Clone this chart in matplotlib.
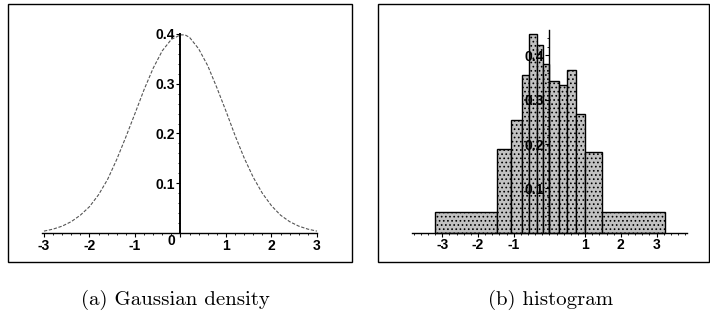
import matplotlib
matplotlib.use('Agg')
import matplotlib.pyplot as plt
import matplotlib.transforms as mtransforms
from matplotlib.patches import Rectangle
import numpy as np

plt.rcParams['axes.unicode_minus'] = False
plt.rcParams['hatch.linewidth'] = 0.7
plt.rcParams['font.family'] = ['Liberation Sans', 'DejaVu Sans']

# (a) gaussian density curve
dens_x = [-3.0, -2.8, -2.6, -2.4, -2.2, -2.0, -1.8, -1.6, -1.4, -1.2, -1.0,
          -0.8, -0.6, -0.4, -0.2, 0.0, 0.1, 0.2, 0.4, 0.6, 0.8, 1.0, 1.2,
          1.4, 1.6, 1.8, 2.0, 2.2, 2.4, 2.6, 2.8, 3.0]
dens_y = [0.004, 0.008, 0.014, 0.023, 0.036, 0.053, 0.077, 0.108, 0.148, 0.193,
          0.240, 0.288, 0.331, 0.366, 0.389, 0.398, 0.398, 0.393, 0.370, 0.336,
          0.292, 0.245, 0.196, 0.151, 0.112, 0.080, 0.055, 0.036, 0.023, 0.014,
          0.008, 0.004]

# (b) histogram with variable bin widths
bin_edges = [-3.19, -1.48, -1.08, -0.78, -0.56, -0.36, -0.17, 0.0, 0.28, 0.50,
             0.74, 0.99, 1.46, 3.24]
bin_heights = [0.046, 0.189, 0.254, 0.356, 0.448, 0.424, 0.380, 0.342, 0.333,
               0.368, 0.268, 0.182, 0.046]

xticks_a = [-3, -2, -1, 0, 1, 2, 3]
xticks_b = [-3, -2, -1, 1, 2, 3]
yticks = [0.1, 0.2, 0.3, 0.4]

fig = plt.figure(figsize=(7.1, 3.26), dpi=100)
ax1 = fig.add_axes([8/710, 1-262/326, 344/710, 258/326])
ax2 = fig.add_axes([378/710, 1-262/326, 331/710, 258/326])

tickfont = dict(fontsize=10, fontweight='bold')


def setup(ax, xlim, ylim, xb, yb, xt, xminor, ylw):
  ax.set_xlim(xlim)
  ax.set_ylim(ylim)
  for s in ['top', 'right']:
    ax.spines[s].set_visible(False)
  ax.spines['left'].set_position(('data', 0))
  ax.spines['bottom'].set_position(('data', 0))
  ax.spines['left'].set_bounds(*yb)
  ax.spines['bottom'].set_bounds(*xb)
  ax.spines['left'].set_linewidth(ylw)
  ax.spines['bottom'].set_linewidth(1.0)
  ax.set_xticks(xt)
  ax.set_xticklabels([str(v) for v in xt], **tickfont)
  ax.set_xticks(xminor, minor=True)
  ax.set_yticks(yticks)
  ax.set_yticklabels([str(v) for v in yticks], **tickfont)
  ax.set_yticks(np.arange(0.02, yb[1], 0.02), minor=True)
  ax.tick_params(which='major', length=3, width=0.8, pad=1, direction='out')
  ax.tick_params(which='minor', length=1.5, width=0.6, direction='out')
  ax.set_facecolor('none')
  ax.add_patch(Rectangle((0, 0), 1, 1, transform=ax.transAxes, fill=False,
                         lw=1.0, edgecolor='black', clip_on=False))


setup(ax1, (-3.79, 3.77), (-0.058, 0.460), (-3.05, 3.0), (0, 0.4),
      xticks_a, np.arange(-3, 3.01, 0.2), 1.4)
ax1.plot(dens_x, dens_y, color='#555555', lw=0.8, linestyle=(0, (3, 1.5)))
# the 0 label sits a bit left and up
for lab in ax1.get_xticklabels():
  if lab.get_text() == '0':
    lab.set_transform(lab.get_transform() +
                      mtransforms.ScaledTranslation(-0.09, 0.05, fig.dpi_scale_trans))

setup(ax2, (-4.80, 4.47), (-0.066, 0.516), (-3.86, 3.84), (0, 0.457),
      xticks_b, np.arange(-3.8, 3.81, 0.2), 1.0)
widths = np.diff(bin_edges)
ax2.bar(bin_edges[:-1], bin_heights, width=widths, align='edge',
        facecolor='#c2c2c2', edgecolor='black', hatch='....', linewidth=1.0, zorder=1)

fig.text(175/710, 1-300/326, '(a) Gaussian density', ha='center', va='center',
         fontsize=15, family=['cmr10', 'DejaVu Serif'])
fig.text(551/710, 1-300/326, '(b) histogram', ha='center', va='center',
         fontsize=15, family=['cmr10', 'DejaVu Serif'])

fig.savefig('out.png', dpi=100)
